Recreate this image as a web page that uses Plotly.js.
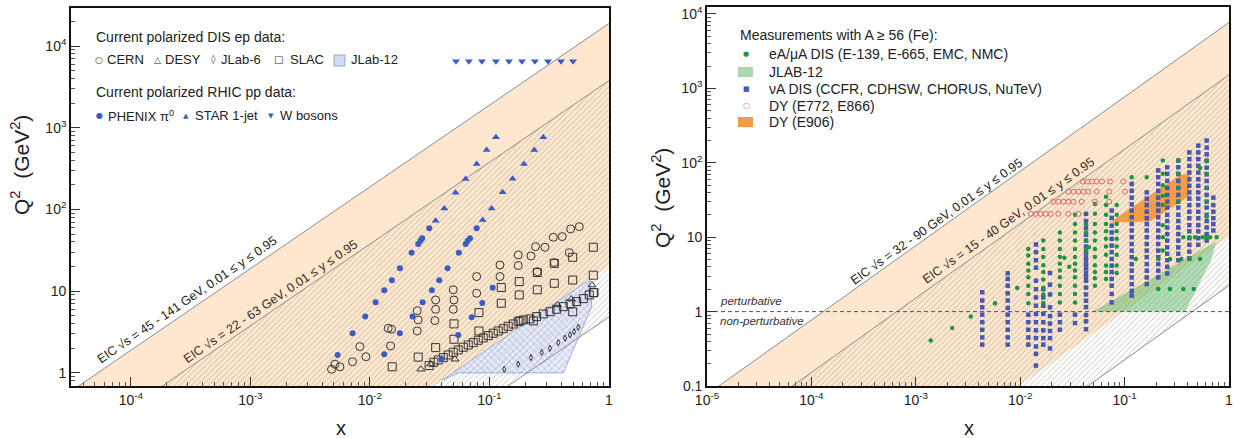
<!DOCTYPE html>
<html><head><meta charset="utf-8">
<script src="https://cdn.plot.ly/plotly-3.0.1.min.js"></script>
<style>html,body{margin:0;padding:0;background:#fff}#chart{width:1234px;height:439px}</style>
</head><body><div id="chart"></div>
<script>
// ================= DATA =================
// kinematic limit lines: Q^2 values at x = 1e-6 and x = 1
const bandX = [1e-6, 1];
const leftOuterHi = [0.018887, 18887];   // sqrt(s)=141, y=0.95
const leftInnerHi = [0.003770, 3770];    // sqrt(s)=63,  y=0.95
const leftOuterLo = [2.025e-5, 20.25];   // sqrt(s)=45,  y=0.01
const leftInnerLo = [4.84e-6, 4.84];     // sqrt(s)=22,  y=0.01
const rightOuterHi = [0.007695, 7695];   // sqrt(s)=90
const rightInnerHi = [0.00152, 1520];    // sqrt(s)=40
const rightOuterLo = [1.024e-5, 10.24];  // sqrt(s)=32
const rightInnerLo = [2.25e-6, 2.25];    // sqrt(s)=15

// ---- left panel: polarized DIS / RHIC data ----
const cernX = [0.00478,0.00509,0.00561,0.00716,0.00824,0.00926,0.01423,0.01518,0.01490,0.02488,0.02535,0.02488,0.03545,0.03545,0.03499,0.0498,0.0505,0.0498,0.0782,0.0782,0.1225,0.1225,0.1741,0.1741,0.2225,0.2432,0.2912,0.342,0.4066,0.4777,0.5644,0.2512,0.3485,0.4656];
const cernQ = [1.11,1.28,1.19,1.37,2.10,1.58,3.52,3.42,2.14,5.78,4.45,3.26,7.81,6.01,4.37,10.4,7.81,6.01,15.1,9.44,20.9,15.1,27.8,20.6,27.0,35.1,34.5,45.7,46.5,57.7,61.6,17.3,22.4,29.6];
const desyX = [0.0267,0.0322,0.0515,0.371,0.485,0.72];
const desyQ = [1.11,1.28,1.47,6.8,8.0,11.9];
const jlab6X = [0.133,0.174,0.2225,0.2735,0.3207,0.3765,0.4285,0.472,0.510,0.553];
const jlab6Q = [1.11,1.28,1.54,1.78,2.00,2.35,2.66,2.92,3.20,3.62];
const slacX = [0.01537,0.02535,0.0355,0.0505,0.0505,0.0817,0.0817,0.1256,0.1256,0.1775,0.1775,0.2512,0.2512,0.3485,0.3485,0.497,0.497,0.739,0.739,0.739,0.497,0.233,0.180,
  0.0313,0.0343,0.0373,0.0411,0.0452,0.0498,0.0548,0.0604,0.0665,0.0732,0.0806,0.0887,0.0977,0.1076,0.1185,0.1305,0.1436,0.158,0.174,0.192,0.218,0.248,0.282,0.321,0.365,0.415,0.472,0.536,0.610,0.684,0.749];
const slacQ = [1.19,1.56,2.04,2.58,3.98,3.26,5.47,7.12,11.1,9.0,13.1,10.4,16.9,12.5,21.9,13.7,26.0,34.5,15.7,9.6,5.6,4.33,4.33,
  1.23,1.35,1.44,1.54,1.66,1.79,1.91,2.06,2.20,2.35,2.51,2.68,2.86,3.06,3.26,3.48,3.72,3.97,4.24,4.45,4.58,4.89,5.27,5.62,6.01,6.47,6.98,7.46,8.11,9.0,9.6];
const jlab12LX = [0.040,0.693,0.716,0.415,0.055,0.040];
const jlab12LQ = [0.81,14.0,6.5,1.0,1.0,0.81];
const phenixX = [0.00537,0.00716,0.00914,0.01117,0.01318,0.01528,0.01782,0.02233,0.02535,0.02655,0.02739,0.03136,
  0.01318,0.01782,0.02276,0.02760,0.03303,0.03801,0.04467,0.05553,0.06324,0.06573,0.06872,0.07818,
  0.0398,0.0548,0.0710,0.0871,0.1064];
const phenixQ = [1.66,3.06,4.89,7.33,10.3,13.6,19.1,29.6,37.8,41.5,44.4,58.9,
  1.69,3.06,4.89,7.33,10.3,13.6,19.1,29.6,37.8,41.5,44.4,58.9,
  1.47,2.92,4.80,7.18,11.0];
const starX = [0.0355,0.0419,0.0521,0.0632,0.0782,0.0948,0.1133, 0.0877,0.1043,0.1288,0.1563,0.1944,0.2371,0.2819];
const starQ = [72.9,103,160,236,360,534,764, 74.4,103,162,238,360,534,764];
const wX = [0.0525,0.0673,0.0865,0.1133,0.1456,0.187,0.240,0.309,0.397,0.50];
const wQ = [6500,6500,6500,6500,6500,6500,6500,6500,6500,6500];

// ---- right panel: nuclear data (A >= 56) ----
const eAcolX = [0.00139,0.00223,0.00336,0.00574,0.00937,0.01196,0.01664,0.0240,0.0265,0.0295,0.0335,0.0427,0.0455,0.052,0.0664,0.084,0.117,0.128,0.163,0.21,0.232,0.272,0.327,0.35,0.365,0.417,0.46,0.472,0.528,0.56,0.611,0.658,0.762];
const eAcolQ = [[0.41],[0.60],[0.86],[1.29],[2.08],
  [6.96,5.66,4.38,3.56,2.89,2.23,1.73,1.29],
  [9.0,6.96,5.4,4.2,3.4,2.7,2.1,1.7,1.3],
  [11.6,9.0,6.96,5.48,4.38,3.56,2.89,2.23,1.73,1.33],
  [5.3],[4.0],
  [20,15.1,11.6,9.0,6.96,5.4,4.38,3.56,2.89,2.23,1.73,1.33],
  [15.1,11.6,9.0,6.7],[7.3],
  [28,20.6,15.1,11.6,9.0,6.96,5.4,4.2,3.4,2.8,2.23],
  [35,27,20,15.1,12,9.5,7.5,5.8,4.15,3.4,2.75],
  [27,20,15.1,12,9.5,7.5,5.8,4.15,3.3],
  [64],[5.1],[64],[5.1,2.02],
  [107,71,50,36,27,14.5,10,6.6],
  [5.1,2.02],[107,71,46,30],[5.1],[10,2.02],[10,5.1],[2.02],[10],[85,5.1],[10],
  [107,71,46,30,19,10],[10],[10]];
const nuAcolX = [0.00433,0.00759,0.01196,0.01416,0.01664,0.0193,0.024,0.0335,0.0427,0.0752,0.117,0.163,0.210,0.256,0.327,0.417,0.508,0.611,0.708];
const nuAcolQ = [[1.82,1.41,1.14,0.91,0.72,0.57,0.45,0.36],
  [3.27,2.75,2.23,1.76,1.41,1.12,0.91,0.72,0.57,0.45,0.36],
  [0.91,0.72,0.57,0.45,0.36],
  [8.0,6.3,4.9,3.9,2.6,2.0,1.55,1.2,0.93,0.72,0.56,0.44,0.34,0.27,0.188],
  [2.0,1.55,1.2,0.93,0.72,0.56,0.44,0.36],
  [3.3,2.3,1.7,1.14,0.87,0.69,0.55,0.44,0.32],
  [0.91,0.72,0.57],
  [0.91,0.70],
  [20.6,16.5,13.3,10.8,9.0,7.5,6.3,5.5,4.9,4.3,3.8,3.3,2.9,2.6,2.1,1.7,1.4,1.15,0.9,0.74,0.58],
  [22.8,18.2,14.3,11.6,9.5,7.7,6.3,5.1,4.15,3.4,2.75,2.23,1.73,1.33],
  [52,42,34,27.6,22.8,18.5,15.1,12.3,10,8.1,6.6,5.4,4.35,3.55,2.88,2.34,1.9,1.64],
  [40,33,27,22,18,15,12.3,10,8.1,6.6,5.4,4.35,3.55,2.88,2.34],
  [79,64,52,42,34,27.6,22.8,18.5,15.1,12.3,10,8.1,6.6,5.4,4.35,3.55,2.88],
  [87,71,57,46,37,30,25,20,16.5,13.5,11,9,7.3,6,4.9,4,3.25],
  [107,87,71,57,46,37,30,25,20,16.5,13.5,11,9,7.3,6,4.9],
  [138,112,91,74,60,49,40,33,27,22,18,14.5,12,9.7,7.9,6.4,5.2],
  [170,138,112,91,74,60,49,40,33,27,22,18,14.5,12,9.7,7.9],
  [199,160,130,106,86,70,57,46,37,30,25,20,16.5,13.5,11,9],
  [34,27,22,18,15,12.3]];
const dyRowQ = [56,41,30,20.6];
const dyRowX = [[0.0397,0.0440,0.0488,0.0541,0.0608,0.0724,0.0972],
  [0.0289,0.0323,0.0360,0.0402,0.0449,0.0541,0.0713,0.1009],
  [0.0207,0.0232,0.0259,0.0289,0.0323,0.0388,0.0520,0.0713],
  [0.0126,0.0141,0.0157,0.0175,0.0196,0.0232,0.0289,0.0360]];
const e906X = [0.0720,0.335,0.425,0.420,0.175,0.0720];
const e906Q = [15.8,68,72,36,16.3,15.8];
const jlab12RX = [0.05,0.76,0.67,0.38,0.05];
const jlab12RQ = [1.0,8.8,4.8,1.0,1.0];
const pertX = [1e-5, 1];
const pertQ = [1, 1];

// tick labels
const leftXTicks = [1e-4,1e-3,1e-2,1e-1,1];
const leftXText = ['10<sup>-4</sup>','10<sup>-3</sup>','10<sup>-2</sup>','10<sup>-1</sup>','1'];
const leftYTicks = [1,10,100,1000,10000];
const leftYText = ['1','10','10<sup>2</sup>','10<sup>3</sup>','10<sup>4</sup>'];
const rightXTicks = [1e-5,1e-4,1e-3,1e-2,1e-1,1];
const rightXText = ['10<sup>-5</sup>','10<sup>-4</sup>','10<sup>-3</sup>','10<sup>-2</sup>','10<sup>-1</sup>','1'];
const rightYTicks = [0.1,1,10,100,1000,10000];
const rightYText = ['0.1','1','10','10<sup>2</sup>','10<sup>3</sup>','10<sup>4</sup>'];

// ================= BUILD =================
const FONT = 'Liberation Sans, Arial, Helvetica, sans-serif';
const BAND = '#fde8cf';
const LINEC = '#8c8c8c';
const BLUE = '#3b5cc4';

function flatCols(xs, qs){ const X=[],Y=[]; xs.forEach((x,i)=>qs[i].forEach(q=>{X.push(x);Y.push(q);})); return {X,Y}; }
function flatRows(qs, xs){ const X=[],Y=[]; qs.forEach((q,i)=>xs[i].forEach(x=>{X.push(x);Y.push(q);})); return {X,Y}; }
function bandPoly(hi, lo){ return {x:[bandX[0],bandX[1],bandX[1],bandX[0],bandX[0]], y:[hi[0],hi[1],lo[1],lo[0],hi[0]]}; }
function minorVals(lo, hi, rlo, rhi){ const v=[]; for(let e=lo;e<hi;e++) for(let m=2;m<=9;m++){ const t=m*Math.pow(10,e); const l=Math.log10(t); if(l>rlo && l<rhi) v.push(t);} return v; }

const traces = [];
function addPanel(xa, ya, oHi, iHi, oLo, iLo){
  const ob = bandPoly(oHi, oLo);
  traces.push({x:ob.x, y:ob.y, xaxis:xa, yaxis:ya, mode:'lines', fill:'toself', fillcolor:BAND, line:{width:0}, hoverinfo:'skip', showlegend:false});
  const hb = bandPoly(iHi, iLo);
  traces.push({x:hb.x, y:hb.y, xaxis:xa, yaxis:ya, mode:'lines', fill:'toself', fillcolor:'rgba(0,0,0,0)', line:{width:0},
    fillpattern:{shape:'/', fgcolor:'rgba(140,118,95,0.6)', bgcolor:'rgba(0,0,0,0)', size:4, solidity:0.17}, hoverinfo:'skip', showlegend:false});
}
function addLines(xa, ya, lines){
  lines.forEach(l=>traces.push({x:bandX, y:l, xaxis:xa, yaxis:ya, mode:'lines', line:{color:LINEC, width:1}, hoverinfo:'skip', showlegend:false}));
}

// Left panel
addPanel('x','y', leftOuterHi, leftInnerHi, leftOuterLo, leftInnerLo);
traces.push({x:jlab12LX, y:jlab12LQ, xaxis:'x', yaxis:'y', mode:'lines', fill:'toself', fillcolor:'rgba(0,0,0,0)',
  line:{color:'rgba(140,160,215,0.8)', width:1},
  fillpattern:{shape:'x', fgcolor:'rgba(100,125,200,0.75)', bgcolor:'rgba(210,218,242,0.5)', size:5, solidity:0.15}, hoverinfo:'skip', showlegend:false});
addLines('x','y',[leftOuterHi, leftInnerHi, leftInnerLo]);
traces.push({x:jlab6X, y:jlab6Q, xaxis:'x', yaxis:'y', mode:'markers', marker:{symbol:'diamond-tall-open', size:4.5, color:'#333', line:{width:1}}, showlegend:false});
traces.push({x:cernX, y:cernQ, xaxis:'x', yaxis:'y', mode:'markers', marker:{symbol:'circle-open', size:8, color:'#333', line:{width:1}}, showlegend:false});
traces.push({x:slacX, y:slacQ, xaxis:'x', yaxis:'y', mode:'markers', marker:{symbol:'square-open', size:8, color:'#333', line:{width:1}}, showlegend:false});
traces.push({x:desyX, y:desyQ, xaxis:'x', yaxis:'y', mode:'markers', marker:{symbol:'triangle-up-open', size:7, color:'#333', line:{width:1}}, showlegend:false});
traces.push({x:phenixX, y:phenixQ, xaxis:'x', yaxis:'y', mode:'markers', marker:{symbol:'circle', size:6, color:BLUE}, showlegend:false});
traces.push({x:starX, y:starQ, xaxis:'x', yaxis:'y', mode:'markers', marker:{symbol:'triangle-up', size:7, color:BLUE}, showlegend:false});
traces.push({x:wX, y:wQ, xaxis:'x', yaxis:'y', mode:'markers', marker:{symbol:'triangle-down', size:7, color:BLUE}, showlegend:false});

// Right panel
addPanel('x2','y2', rightOuterHi, rightInnerHi, rightOuterLo, rightInnerLo);
traces.push({x:jlab12RX, y:jlab12RQ, xaxis:'x2', yaxis:'y2', mode:'lines', fill:'toself', fillcolor:'rgba(95,185,105,0.5)', line:{width:0}, hoverinfo:'skip', showlegend:false});
traces.push({x:e906X, y:e906Q, xaxis:'x2', yaxis:'y2', mode:'lines', fill:'toself', fillcolor:'rgba(243,150,60,0.92)', line:{width:0}, hoverinfo:'skip', showlegend:false});
addLines('x2','y2',[rightOuterHi, rightInnerHi, rightInnerLo]);
traces.push({x:pertX, y:pertQ, xaxis:'x2', yaxis:'y2', mode:'lines', line:{color:'#555', width:1, dash:'4px,3px'}, hoverinfo:'skip', showlegend:false});
const eA = flatCols(eAcolX, eAcolQ);
const nuA = flatCols(nuAcolX, nuAcolQ);
const dy = flatRows(dyRowQ, dyRowX);
traces.push({x:nuA.X, y:nuA.Y, xaxis:'x2', yaxis:'y2', mode:'markers', marker:{symbol:'square', size:4.5, color:'#4559b3'}, showlegend:false});
traces.push({x:eA.X, y:eA.Y, xaxis:'x2', yaxis:'y2', mode:'markers', marker:{symbol:'circle', size:4.5, color:'#1e9640'}, showlegend:false});
traces.push({x:dy.X, y:dy.Y, xaxis:'x2', yaxis:'y2', mode:'markers', marker:{symbol:'circle-open', size:5, color:'#e8646c', line:{width:1}}, showlegend:false});

function axis(dom, rng, tv, tt, minor, anchor){
  return {type:'log', domain:dom, range:rng, anchor:anchor, showline:true, mirror:true, linecolor:'#111', linewidth:1.6,
    ticks:'inside', ticklen:9, tickwidth:1, tickcolor:'#333', tickvals:tv, ticktext:tt,
    minor:{ticks:'inside', ticklen:4.5, tickwidth:1, tickcolor:'#555', tickvals:minor, showgrid:false},
    showgrid:false, zeroline:false, tickfont:{family:FONT, size:14, color:'#222'}, fixedrange:true};
}
const px = v=>v/1234, py = v=>1-v/439;

const ann = [];
function txt(x, y, t, opts){ ann.push(Object.assign({xref:'paper', yref:'paper', x:px(x), y:py(y), text:t, showarrow:false, xanchor:'left', yanchor:'middle',
  font:{family:FONT, size:13, color:'#222'}}, opts||{})); }

// axis titles
txt(341, 428, 'x', {xanchor:'center', font:{family:FONT, size:20, color:'#222'}});
txt(969, 428, 'x', {xanchor:'center', font:{family:FONT, size:20, color:'#222'}});
txt(20, 165, 'Q<sup>2</sup>  (GeV<sup>2</sup>)', {xanchor:'center', textangle:-90, font:{family:FONT, size:21, color:'#222'}});
txt(661, 198, 'Q<sup>2</sup>  (GeV<sup>2</sup>)', {xanchor:'center', textangle:-90, font:{family:FONT, size:21, color:'#222'}});

// band labels
txt(187, 300, 'EIC √s = 45 - 141 GeV, 0.01 ≤ y ≤ 0.95', {xanchor:'center', textangle:-34.4, font:{family:FONT, size:12.5, color:'#222'}});
txt(270, 302, 'EIC √s = 22 - 63 GeV, 0.01 ≤ y ≤ 0.95', {xanchor:'center', textangle:-34.4, font:{family:FONT, size:12.5, color:'#3a2a1a'}});
txt(936, 222, 'EIC √s = 32 - 90 GeV, 0.01 ≤ y ≤ 0.95', {xanchor:'center', textangle:-35.5, font:{family:FONT, size:12.5, color:'#222'}});
txt(1008, 221, 'EIC √s = 15 - 40 GeV, 0.01 ≤ y ≤ 0.95', {xanchor:'center', textangle:-35.5, font:{family:FONT, size:12.5, color:'#3a2a1a'}});

// perturbative labels
txt(718, 301, '<i>perturbative</i>', {font:{family:FONT, size:11.5, color:'#333'}});
txt(718, 321, '<i>non-perturbative</i>', {font:{family:FONT, size:11.5, color:'#333'}});

// left legend
const GF = 'DejaVu Sans, sans-serif';
txt(94, 37, 'Current polarized DIS ep data:', {font:{family:FONT, size:14, color:'#222'}});
txt(99, 60, '○', {xanchor:'center', font:{family:GF, size:9, color:'#333'}});
txt(105, 60, 'CERN');
txt(157, 60, '△', {xanchor:'center', font:{family:GF, size:9, color:'#333'}});
txt(163, 60, 'DESY');
txt(213, 60, '◊', {xanchor:'center', font:{family:GF, size:9, color:'#333'}});
txt(219, 60, 'JLab-6');
txt(278, 60, '□', {xanchor:'center', font:{family:GF, size:10, color:'#333'}});
txt(288, 60, 'SLAC');
txt(349, 60, 'JLab-12');
txt(94, 92, 'Current polarized RHIC pp data:', {font:{family:FONT, size:14, color:'#222'}});
txt(99, 116, '●', {xanchor:'center', font:{family:GF, size:8, color:BLUE}});
txt(106, 116, 'PHENIX π<sup>0</sup>');
txt(186, 116, '▲', {xanchor:'center', font:{family:GF, size:7, color:BLUE}});
txt(193, 116, 'STAR 1-jet');
txt(271, 116, '▼', {xanchor:'center', font:{family:GF, size:7, color:BLUE}});
txt(278, 116, 'W bosons');

// right legend
txt(738, 35, 'Measurements with A ≥ 56 (Fe):', {font:{family:FONT, size:14, color:'#222'}});
txt(746, 54, '●', {xanchor:'center', font:{family:GF, size:7, color:'#1e9640'}});
txt(767, 54, 'eA/μA DIS (E-139, E-665, EMC, NMC)', {font:{family:FONT, size:14, color:'#222'}});
txt(767, 72, 'JLAB-12', {font:{family:FONT, size:14, color:'#222'}});
txt(746, 89, '■', {xanchor:'center', font:{family:GF, size:7, color:'#4559b3'}});
txt(767, 89, 'νA DIS (CCFR, CDHSW, CHORUS, NuTeV)', {font:{family:FONT, size:14, color:'#222'}});
txt(746, 106, '○', {xanchor:'center', font:{family:GF, size:8, color:'#e8646c'}});
txt(767, 106, 'DY (E772, E866)', {font:{family:FONT, size:14, color:'#222'}});
txt(767, 122, 'DY (E906)', {font:{family:FONT, size:14, color:'#222'}});

const shapes = [
  {type:'rect', xref:'paper', yref:'paper', x0:px(334), x1:px(345), y0:py(66), y1:py(55), fillcolor:'rgba(205,215,240,0.9)', line:{color:'rgba(140,160,215,0.9)', width:1}},
  {type:'rect', xref:'paper', yref:'paper', x0:px(738), x1:px(753), y0:py(77), y1:py(67), fillcolor:'#a9d8ab', line:{width:0}},
  {type:'rect', xref:'paper', yref:'paper', x0:px(738), x1:px(753), y0:py(127), y1:py(117), fillcolor:'#f39a45', line:{width:0}}
];

const layout = {
  width:1234, height:439, margin:{l:0,r:0,t:0,b:0}, paper_bgcolor:'#fff', plot_bgcolor:'#fff', showlegend:false,
  font:{family:FONT, color:'#222'},
  xaxis: axis([71/1234, 609/1234], [-4.5, 0], leftXTicks, leftXText, minorVals(-5,0,-4.5,0), 'y'),
  yaxis: axis([1-386/439, 1-8/439], [-0.16, 4.465], leftYTicks, leftYText, minorVals(-1,5,-0.16,4.465), 'x'),
  xaxis2: axis([707/1234, 1229/1234], [-5, 0], rightXTicks, rightXText, minorVals(-5,0,-5,0), 'y2'),
  yaxis2: axis([1-386/439, 1-7/439], [-1, 4.094], rightYTicks, rightYText, minorVals(-1,4,-1,4.094), 'x2'),
  annotations: ann, shapes: shapes
};
Plotly.newPlot('chart', traces, layout, {displayModeBar:false});
</script></body></html>
